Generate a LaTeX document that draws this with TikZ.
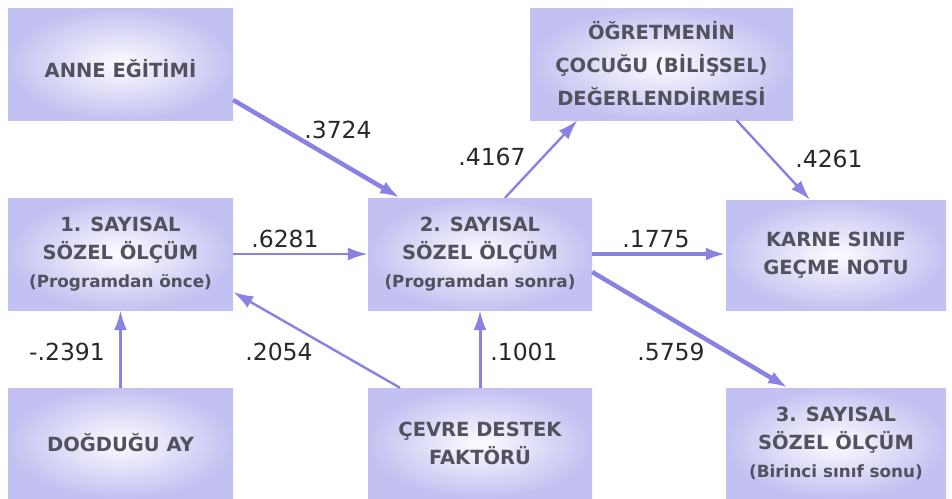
\documentclass[tikz,border=0pt]{standalone}
\usepackage{fontspec}
\setmainfont{DejaVu Sans}
\usetikzlibrary{arrows.meta}
\definecolor{boxout}{RGB}{195,193,241}
\definecolor{boxin}{RGB}{252,252,255}
\definecolor{arr}{RGB}{138,130,226}
\definecolor{txt}{RGB}{82,82,94}
\definecolor{lab}{RGB}{40,40,44}
\begin{document}
\begin{tikzpicture}[x=1pt,y=-1pt,
  box/.style={rectangle, inner sep=0pt, minimum width=#1, minimum height=112pt,
    inner color=boxin, outer color=boxout, text=txt, align=center,
    font=\bfseries\fontsize{19.5}{28}\selectfont},
  lbl/.style={inner sep=0pt, text=lab, font=\fontsize{23.5}{23.5}\selectfont},
  conn/.style={draw=arr, line width=#1, -{Latex[length=20pt,width=13pt]}}
]
\fill[white] (0,0) rectangle (952,498);
\useasboundingbox (0,0) rectangle (952,498);

% boxes
\node[box=225pt, text height=30pt, text depth=4pt] (anne) at (120.5,64) {ANNE EĞİTİMİ};
\node[box=263pt, font=\bfseries\fontsize{19.5}{33}\selectfont] (ogret) at (661.5,64)
  {ÖĞRETMENİN\\ÇOCUĞU (BİLİŞSEL)\\DEĞERLENDİRMESİ};
\node[box=225pt] (s1) at (120.5,254)
  {1. SAYISAL\\SÖZEL ÖLÇÜM\\{\fontsize{16.8}{28}\selectfont (Programdan önce)}};
\node[box=224pt] (s2) at (480,254)
  {2. SAYISAL\\SÖZEL ÖLÇÜM\\{\fontsize{16.8}{28}\selectfont (Programdan sonra)}};
\node[box=220pt, minimum height=110pt] (karne) at (836,255)
  {KARNE SINIF\\GEÇME NOTU};
\node[box=225pt, minimum height=110pt, text height=20pt, text depth=4pt] (dog) at (120.5,443) {DOĞDUĞU AY};
\node[box=224pt, minimum height=110pt] (cevre) at (480,443)
  {ÇEVRE DESTEK\\FAKTÖRÜ};
\node[box=220pt, minimum height=110pt] (s3) at (836,443)
  {3. SAYISAL\\SÖZEL ÖLÇÜM\\{\fontsize{16.8}{28}\selectfont (Birinci sınıf sonu)}};

% connectors
\draw[conn=4.5pt] ([yshift=-36pt]anne.east) -- ([xshift=-80pt]s2.north);
\draw[conn=2.4pt] ([xshift=25pt]s2.north) -- ([xshift=-84pt]ogret.south);
\draw[conn=2.4pt] ([xshift=75pt]ogret.south) -- ([xshift=-26pt]karne.north);
\draw[conn=2.4pt] (s1.east) -- (s2.west);
\draw[conn=4.5pt] (s2.east) -- (s2.east -| karne.west);
\draw[conn=4.5pt] ([yshift=-18pt]s2.east) -- ([xshift=-48pt]s3.north);
\draw[conn=3pt] (dog.north) -- (s1.south);
\draw[conn=2.4pt] ([xshift=-80pt]cevre.north) -- ([yshift=-38pt]s1.east);
\draw[conn=3pt] (cevre.north) -- (s2.south);

% labels
\node[lbl] (l1) at (338,130) {.3724};
\node[lbl] (l2) at (492,157) {.4167};
\node[lbl] (l3) at (829,159) {.4261};
\node[lbl] (l4) at (285,239) {.6281};
\node[lbl] (l5) at (656,239) {.1775};
\node[lbl] (l6) at (67,352) {-.2391};
\node[lbl] (l7) at (279,352) {.2054};
\node[lbl] (l8) at (524,352) {.1001};
\node[lbl] (l9) at (671,352) {.5759};
\end{tikzpicture}
\end{document}
